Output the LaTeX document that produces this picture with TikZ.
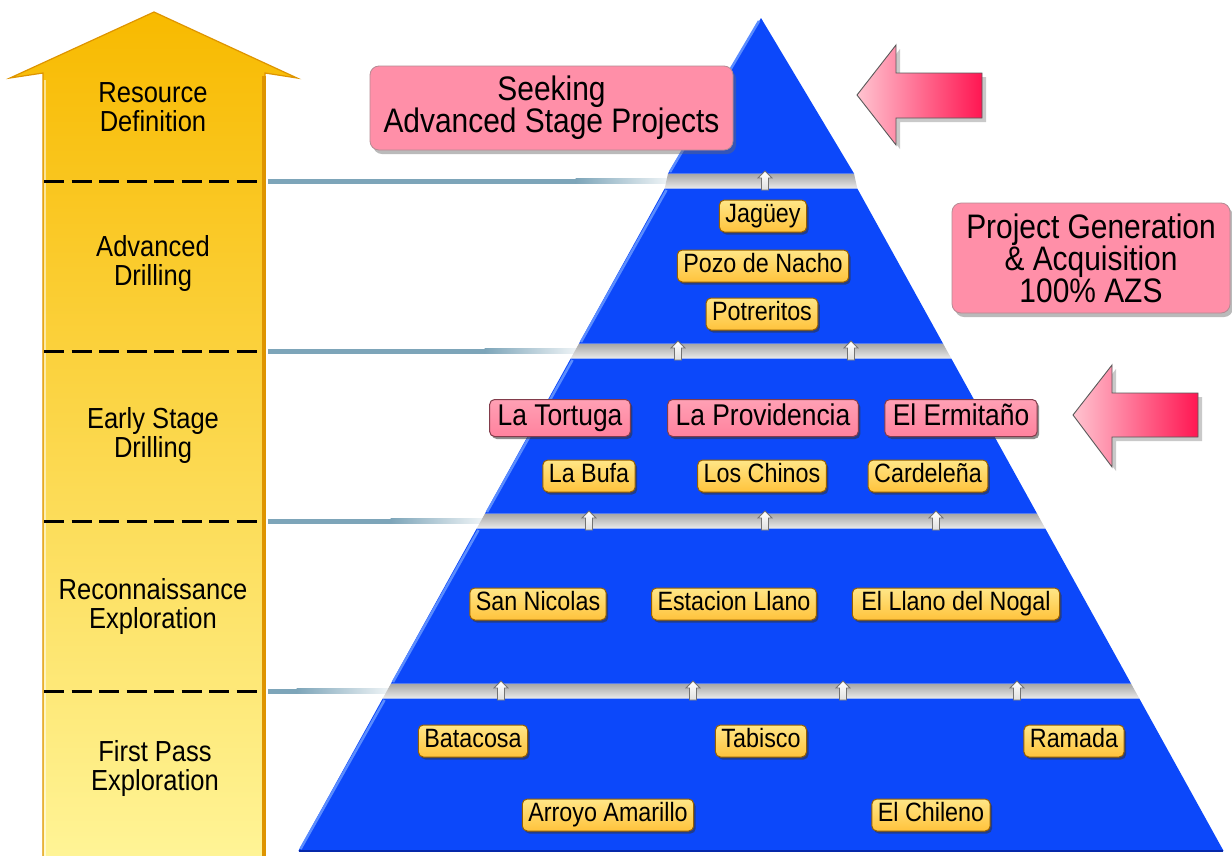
\documentclass[tikz,border=0pt]{standalone}
\usepackage{fontspec}
\setmainfont[FakeStretch=0.88]{Liberation Sans}
\usetikzlibrary{shadows,calc}
\definecolor{pyblue}{RGB}{12,72,250}
\definecolor{pylight}{RGB}{90,140,255}
\definecolor{pydark}{RGB}{5,40,170}
\definecolor{ylTop}{RGB}{255,230,135}
\definecolor{ylBot}{RGB}{255,195,60}
\definecolor{ylBorder}{RGB}{150,95,0}
\definecolor{pkTop}{RGB}{255,160,180}
\definecolor{pkBot}{RGB}{255,130,158}
\definecolor{pkFill}{RGB}{255,143,168}
\definecolor{pkBorder}{RGB}{130,60,75}
\definecolor{arTop}{RGB}{248,186,0}
\definecolor{arMid}{RGB}{255,214,40}
\definecolor{arBot}{RGB}{255,244,150}
\definecolor{arEdge}{RGB}{222,148,0}
\definecolor{linecol}{RGB}{125,165,185}
\definecolor{redL}{RGB}{255,196,208}
\definecolor{redR}{RGB}{255,22,82}
\newcommand\fsLeft{\fontsize{29}{29}\selectfont}
\newcommand\fsBox{\fontsize{26.5}{26.5}\selectfont}
\newcommand\fsPink{\fontsize{30}{30}\selectfont}
\newcommand\fsBig{\fontsize{34}{32}\selectfont}
\begin{document}
\begin{tikzpicture}[x=1pt,y=-1pt,
  yl/.style={draw=ylBorder, line width=1pt, rounded corners=5pt, top color=ylTop, bottom color=ylBot,
    font=\fsBox, minimum height=32pt, inner xsep=6pt, inner ysep=0pt, text height=19pt, text depth=5.5pt,
    drop shadow={shadow xshift=2pt, shadow yshift=-2.5pt, opacity=.55, fill=black!80}},
  pk/.style={yl, draw=pkBorder, top color=pkTop, bottom color=pkBot, font=\fsPink, minimum height=37pt,
    inner xsep=8pt, text height=21.5pt, text depth=6.2pt},
  bigpk/.style={draw=pkBorder!60, line width=0.8pt, fill=pkFill, rounded corners=9pt, font=\fsBig, align=center,
    inner sep=0pt, drop shadow={shadow xshift=3pt, shadow yshift=-4pt, opacity=.45, fill=black!60}},
  lefttxt/.style={font=\fsLeft, align=center, inner sep=0pt},
  layer/.style={fill=pyblue},
  gapstrip/.style={top color=black!35, middle color=white, bottom color=black!8},
  dashline/.style={line width=3pt, dash pattern=on 20pt off 7.5pt},
  minarrow/.style={draw=black!55, line width=0.8pt, top color=white, bottom color=black!12},
  redarrow/.style={draw=black!65, line width=0.9pt, left color=redL, right color=redR,
    drop shadow={shadow xshift=4pt, shadow yshift=-4pt, opacity=.35, fill=black!60}}
]
\useasboundingbox (0,0) rectangle (1232,855);
\fill[white] (0,0) rectangle (1232,855);

% connector lines from the stage arrow to the pyramid
\foreach \yy/\xl in {181/666, 351/575, 521/481, 691/387}{
  \fill[linecol] (268,\yy-2.5) rectangle (\xl-90,\yy+2.5);
  \shade[left color=linecol, right color=white] (\xl-90.5,\yy-2.5) rectangle (\xl+15,\yy+2.5);
}

% gaps between layers
\shade[gapstrip] (668,173.5) -- (854,173.5) -- (857.3,188.5) -- (664.7,188.5) -- cycle;
\shade[gapstrip] (579,343.5) -- (943,343.5) -- (951.3,358.5) -- (570.7,358.5) -- cycle;
\shade[gapstrip] (485,513.5) -- (1037,513.5) -- (1045.3,528.5) -- (476.7,528.5) -- cycle;
\shade[gapstrip] (391,683.5) -- (1131,683.5) -- (1139.3,698.5) -- (382.7,698.5) -- cycle;

% pyramid layers
\fill[layer] (761,18) -- (854,173.5) -- (668,173.5) -- cycle;
\fill[layer] (664.7,188.5) -- (857.3,188.5) -- (943,343.5) -- (579,343.5) -- cycle;
\fill[layer] (570.7,358.5) -- (951.3,358.5) -- (1037,513.5) -- (485,513.5) -- cycle;
\fill[layer] (476.7,528.5) -- (1045.3,528.5) -- (1131,683.5) -- (391,683.5) -- cycle;
\fill[layer] (382.7,698.5) -- (1139.3,698.5) -- (1223.6,851) -- (298.4,851) -- cycle;
% edge highlights
\draw[pylight, line width=2.5pt] (759,21) -- (670,172);
\draw[pylight, line width=2.5pt] (666.5,190) -- (581,342);
\draw[pylight, line width=2.5pt] (572.5,360) -- (487,512);
\draw[pylight, line width=2.5pt] (478.5,530) -- (393,682);
\draw[pylight, line width=2.5pt] (384.5,700) -- (300.5,849);
\draw[pydark, line width=2pt] (299,851) -- (1223,851);

% small up arrows in the gaps
\foreach \xx/\yy in {765/181, 678/351, 851/351, 589/521, 765/521, 936/521, 501/691, 693/691, 843/691, 1017/691}{
  \shade[minarrow] (\xx,\yy-10) -- (\xx+7,\yy-3) -- (\xx+3.5,\yy-3) -- (\xx+3.5,\yy+9) -- (\xx-3.5,\yy+9) -- (\xx-3.5,\yy-3) -- (\xx-7,\yy-3) -- cycle;
}

% project labels
\node[yl] (jag) at (763,216) {Jagüey};
\node[yl] (poz) at (763,266) {Pozo de Nacho};
\node[yl] (pot) at (762,314) {Potreritos};
\node[pk] (tor) at (560,418) {La Tortuga};
\node[pk] (pro) at (763,418) {La Providencia};
\node[pk] (erm) at (961,418) {El Ermitaño};
\node[yl] (buf) at (589,476) {La Bufa};
\node[yl] (chi) at (762,476) {Los Chinos};
\node[yl] (car) at (928,476) {Cardeleña};
\node[yl] (san) at (538,604) {San Nicolas};
\node[yl] (est) at (734,604) {Estacion Llano};
\node[yl, inner xsep=9pt] (nog) at (956,604) {El Llano del Nogal};
\node[yl] (bat) at (473,741) {Batacosa};
\node[yl] (tab) at (761,741) {Tabisco};
\node[yl] (ram) at (1074,741) {Ramada};
\node[yl] (arr) at (608,815) {Arroyo Amarillo};
\node[yl] (chl) at (931,815) {El Chileno};

% stage arrow on the left
\shade[top color=arTop, middle color=arMid, bottom color=arBot, draw=arEdge, line width=1.2pt]
  (43,857) -- (43,73) -- (10,78) -- (154,12) -- (297,78) -- (265,73) -- (265,857) -- cycle;
\draw[arEdge, line width=3.5pt] (264,76) -- (264,857);
\draw[white, opacity=.55, line width=2pt] (45,80) -- (45,857);
\foreach \yy in {181,351,521,691}{
  \draw[dashline] (44,\yy) -- (262,\yy);
}
\node[lefttxt] (s1) at (153,107) {Resource\\Definition};
\node[lefttxt] (s2) at (153,263) {Advanced\\Drilling};
\node[lefttxt] (s3) at (153,435) {Early Stage\\Drilling};
\node[lefttxt] (s4) at (153,606) {Reconnaissance\\Exploration};
\node[lefttxt] (s5) at (155,768) {First Pass\\Exploration};

% pink call-outs and arrows
\node[bigpk, minimum width=363pt, minimum height=84pt] (seek) at (551.5,108) {Seeking\\Advanced Stage Projects};
\node[bigpk, minimum width=278pt, minimum height=110pt] (gen) at (1091,258) {Project Generation\\\& Acquisition\\100\% AZS};
\shade[redarrow] (857,95) -- (896,45) -- (896,73) -- (982,73) -- (982,118) -- (896,118) -- (896,145) -- cycle;
\shade[redarrow] (1073,415) -- (1112,365) -- (1112,393) -- (1198,393) -- (1198,437) -- (1112,437) -- (1112,467) -- cycle;
\end{tikzpicture}
\end{document}
